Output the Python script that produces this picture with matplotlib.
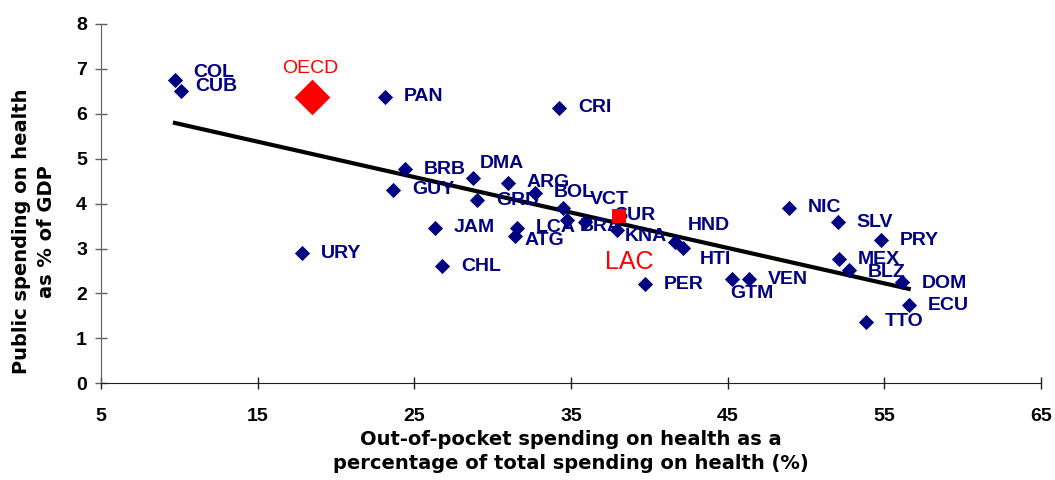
import numpy as np
import matplotlib
matplotlib.use("Agg")
import matplotlib.pyplot as plt

plt.rcParams['font.family'] = ['Liberation Sans', 'DejaVu Sans']

# country values: out-of-pocket share (%) and public spending (% of GDP)
countries = ['COL', 'CUB', 'PAN', 'CRI', 'BRB', 'GUY', 'DMA', 'ARG', 'GRD', 'BOL',
             'VCT', 'BRA', 'SUR', 'KNA', 'LCA', 'ATG', 'HND', 'HTI', 'JAM', 'CHL',
             'URY', 'PER', 'GTM', 'VEN', 'NIC', 'SLV', 'PRY', 'MEX', 'BLZ', 'DOM',
             'ECU', 'TTO']
out_of_pocket = [9.72, 10.11, 23.12, 34.23, 24.40, 23.63, 28.74, 30.97, 29.00, 32.70,
                 34.48, 34.74, 35.89, 37.93, 31.55, 31.42, 41.63, 42.14, 26.31, 26.76,
                 17.83, 39.72, 45.27, 46.35, 48.91, 52.03, 54.78, 52.10, 52.73, 56.12,
                 56.56, 53.82]
public_spending = [6.75, 6.51, 6.38, 6.13, 4.77, 4.31, 4.57, 4.46, 4.08, 4.24,
                   3.91, 3.64, 3.59, 3.41, 3.46, 3.28, 3.15, 3.01, 3.46, 2.61,
                   2.90, 2.21, 2.32, 2.32, 3.91, 3.59, 3.19, 2.76, 2.52, 2.26,
                   1.74, 1.37]

oecd_x, oecd_y = 18.47, 6.38
lac_x, lac_y = 38.06, 3.73

# label offsets in pixels (dx, dy) from each point
label_offsets = {
    'COL': (18, 8), 'CUB': (14, 4), 'DMA': (7, 15), 'VCT': (27, 8), 'BRA': (13, -7),
    'SUR': (29, 7), 'KNA': (8, -6), 'ATG': (10, -5), 'HND': (13, 16), 'HTI': (17, -11),
    'GTM': (-2, -14), 'BLZ': (19, -2), 'DOM': (20, -2),
}

navy = '#000080'
red = '#FF0000'

fig = plt.figure(figsize=(10.55, 4.8), dpi=100)
ax = fig.add_axes([0.0957, 0.2015, 0.891, 0.7485])

x = np.array(out_of_pocket)
y = np.array(public_spending)

# linear trend (countries plus OECD), drawn over the country range
slope, intercept = np.polyfit(np.append(x, oecd_x), np.append(y, oecd_y), 1)
xs = np.array([x.min(), x.max()])
ax.plot(xs, slope * xs + intercept, color='black', lw=3, zorder=2)

ax.scatter(x, y, marker='D', s=60, color=navy, zorder=3, linewidths=0)
for name, xi, yi in zip(countries, x, y):
    dx, dy = label_offsets.get(name, (19, 0))
    ax.annotate(name, (xi, yi), xytext=(dx, dy), textcoords='offset pixels',
                ha='left', va='center', fontsize=14, fontweight='bold', color=navy)

ax.scatter([oecd_x], [oecd_y], marker='D', s=330, color=red, zorder=4, linewidths=0)
ax.annotate('OECD', (oecd_x, oecd_y), xytext=(-2, 28), textcoords='offset pixels',
            ha='center', va='center', fontsize=14, color=red)
ax.scatter([lac_x], [lac_y], marker='s', s=90, color=red, zorder=4, linewidths=0)
ax.annotate('LAC', (lac_x, lac_y), xytext=(-14, -46), textcoords='offset pixels',
            ha='left', va='center', fontsize=18, color=red)

ax.set_xlim(5, 65)
ax.set_ylim(0, 8)
ax.set_xticks(np.arange(5, 66, 10))
ax.set_yticks(np.arange(0, 9, 1))
ax.tick_params(axis='both', direction='inout', length=8, width=1,
               labelsize=14)
ax.tick_params(axis='x', pad=14, colors='#202020')
ax.tick_params(axis='y', pad=6, colors='#606060')
for lbl in ax.get_xticklabels() + ax.get_yticklabels():
    lbl.set_fontweight('bold')
    lbl.set_color('black')

for side in ['top', 'right']:
    ax.spines[side].set_visible(False)
ax.spines['bottom'].set_color('#202020')
ax.spines['left'].set_color('#606060')

ax.set_xlabel('Out-of-pocket spending on health as a\npercentage of total spending on health (%)',
              fontsize=14, fontweight='bold', family='DejaVu Sans', linespacing=1.35)
ax.xaxis.set_label_coords(0.5, -0.13)
ax.set_ylabel('Public spending on health\nas % of GDP', fontsize=14,
              fontweight='bold', family='DejaVu Sans', linespacing=1.4)
ax.yaxis.set_label_coords(-0.048, 0.422)

fig.savefig('out.png', dpi=100)
